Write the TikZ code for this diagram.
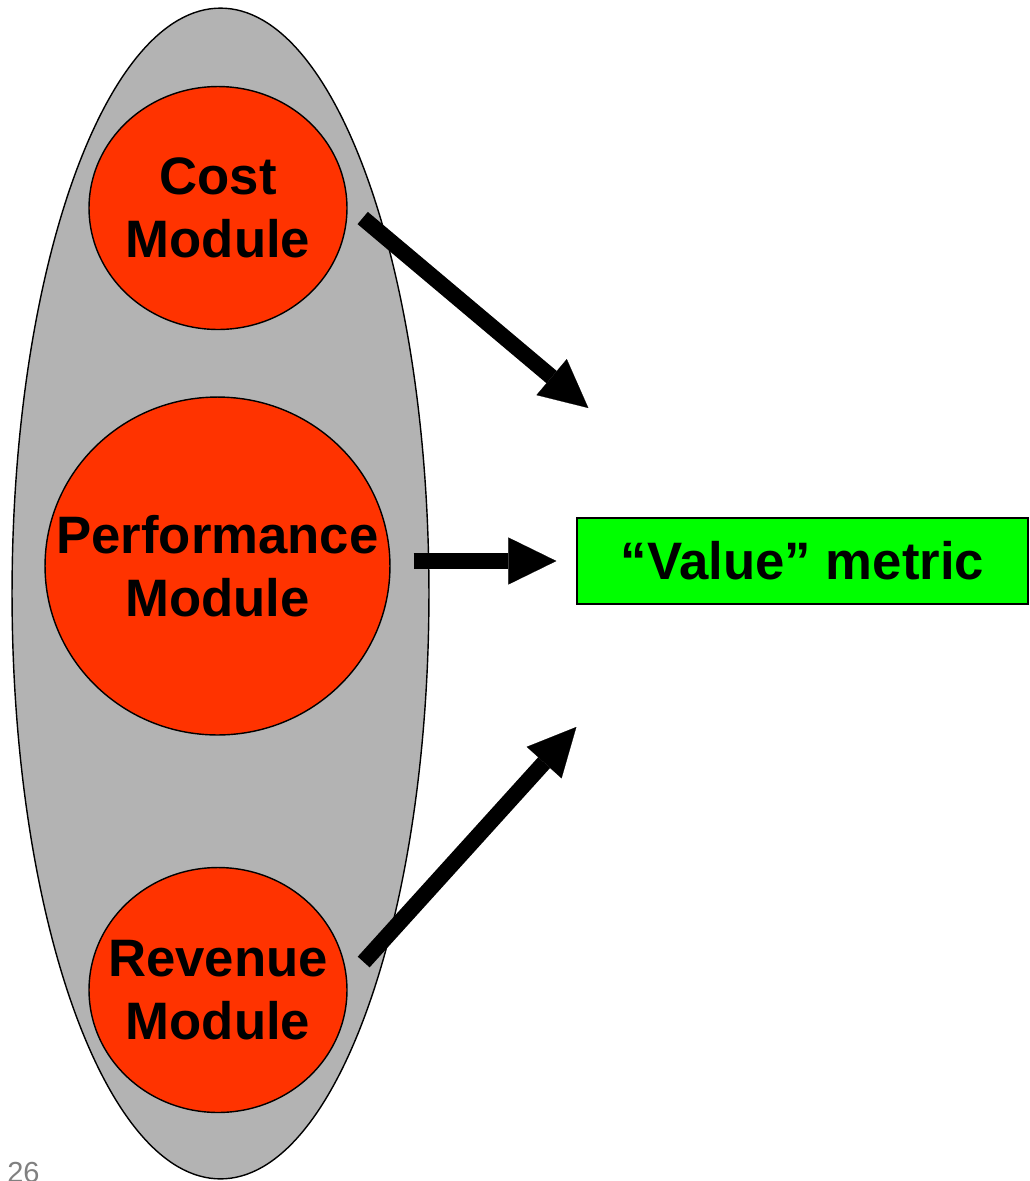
\documentclass[tikz,border=0pt]{standalone}
\usepackage{fontspec}
\setmainfont{Liberation Sans}
\usetikzlibrary{shapes,arrows.meta,positioning,calc}
\definecolor{modred}{HTML}{FF3300}
\definecolor{shellgray}{HTML}{B3B3B3}
\definecolor{metricgreen}{HTML}{00FF00}

\begin{document}
\begin{tikzpicture}[x=0.02cm, y=-0.02cm,
    bigfont/.style={font=\fontsize{30}{36}\selectfont\bfseries},
    module/.style={ellipse, draw, line width=0.8pt, fill=modred, inner sep=0pt},
    modtext/.style={bigfont, align=center, inner sep=0pt},
    bigarrow/.style={line width=0.32cm, -{Triangle[length=0.96cm, width=0.94cm, line width=0.1pt]}}
]
\useasboundingbox (0,0) rectangle (1029,1181);

% outer shell holding the three modules
\node[ellipse, draw, line width=0.8pt, fill=shellgray, minimum width=8.34cm, minimum height=23.42cm] (shell) at (220.5,593.5) {};

\node[module, minimum width=5.16cm, minimum height=4.86cm,
      label={[modtext]center:Cost\\Module}] (cost) at (218,208) {};
\node[module, minimum width=6.9cm, minimum height=6.76cm,
      label={[modtext]center:Performance\\Module}] (perf) at (217.5,566) {};
\node[module, minimum width=5.16cm, minimum height=4.9cm,
      label={[modtext]center:Revenue\\Module}] (rev) at (218,990) {};

\node[rectangle, draw, line width=0.8pt, fill=metricgreen, minimum width=9.02cm, minimum height=1.72cm, bigfont] (value) at (802.5,561) {“Value” metric};

% arrows into the metric
\draw[bigarrow] ($(cost.east)+(15,10)$) -- ($(value.west)+(12,-153)$);
\draw[bigarrow] ($(perf.east)+(23,-5)$) -- ($(value.west)+(-20,0)$);
\draw[bigarrow] ($(rev.east)+(16,-28)$) -- ($(value.west)+(0,166)$);

\node[anchor=north west, inner sep=0pt, text=gray, font=\fontsize{16.5}{18}\selectfont] (pagenum) at (7,1162) {26};
\end{tikzpicture}
\end{document}
